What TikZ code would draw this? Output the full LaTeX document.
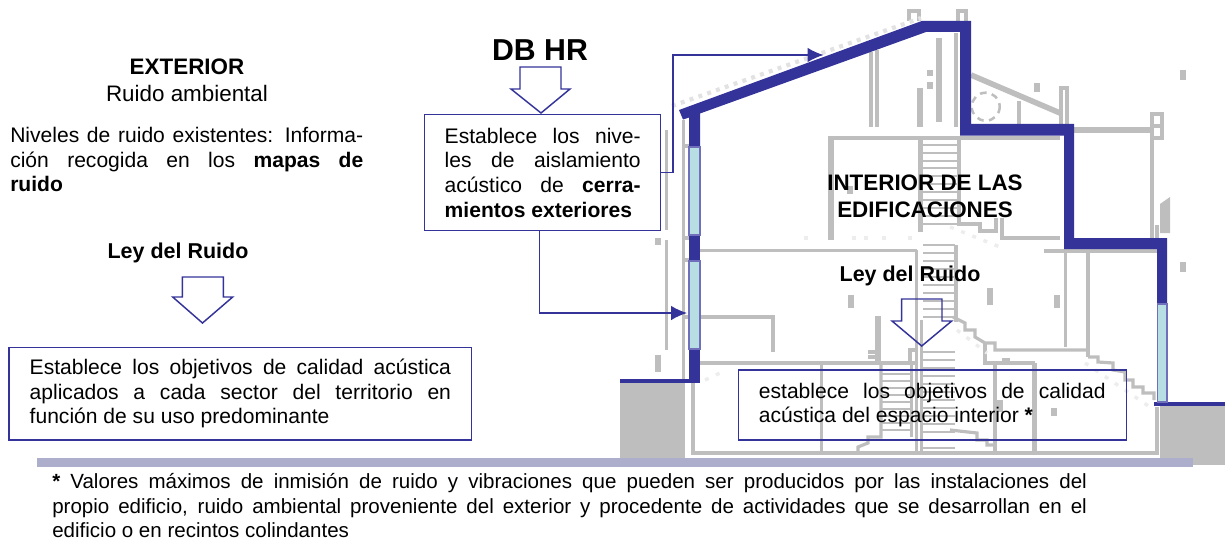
\documentclass[tikz,border=0pt]{standalone}
\usepackage{fontspec}
\setmainfont{Liberation Sans}
\usetikzlibrary{arrows.meta}
\definecolor{wallblue}{HTML}{333399}
\definecolor{planegrey}{HTML}{BEBEBE}
\definecolor{glassblue}{HTML}{B7DFE3}
\definecolor{glassedge}{HTML}{6F6FBB}
\definecolor{bandgrey}{HTML}{ADADCC}
\tikzset{
  plane/.style={draw=planegrey,line width=2.4},
  planefat/.style={draw=planegrey,line width=4.2},
  planethin/.style={draw=planegrey,line width=1.9},
  speck/.style={draw=planegrey,line width=4.5},
  noise/.style={draw=planegrey!45,line width=3.2,dash pattern=on 3pt off 4pt},
  faint/.style={draw=planegrey!28,line width=2.6,dash pattern=on 3pt off 6pt},
  wall/.style={fill=wallblue,draw=none},
  glass/.style={fill=glassblue,draw=glassedge,line width=1},
  txt/.style={font=\fontsize{15.8}{18.4}\selectfont,inner sep=0pt},
  txtbox/.style={txt,draw=wallblue,line width=1.1,align=justify},
  hollow/.style={draw=wallblue,line width=1.1},
  link/.style={draw=wallblue,line width=1.1,-{Latex[length=12pt,width=11pt]}}
}
\begin{document}
\begin{tikzpicture}[x=.75pt,y=-.75pt]
  \useasboundingbox (0,0) rectangle (1225,542);
  % plan
  \fill[planegrey] (620,383) rectangle (685,458);
  \fill[planegrey] (1160,406) rectangle (1225,465);
  \fill[bandgrey] (37,458) rectangle (1192.5,467);
  \draw[plane] (909,21) -- (909,11) -- (919,11) -- (919,21);
  \draw[plane] (958,21) -- (958,11) -- (966,11) -- (966,21);
  \draw[noise] (672,106) -- (921,18);
  \draw[plane] (871,52) -- (871,127) (877,50) -- (877,127);
  \draw[planefat] (920,88) -- (920,127);
  \draw[planefat] (939,38) -- (939,122);
  \draw[plane] (956,33) -- (956,127);
  \draw[speck] (930,70) -- (930,76) (930,82) -- (930,89);
  \draw[planefat] (971,75) -- (1060,113);
  \draw[plane] (1019,101) -- (1019,124);
  \draw[planethin,dash pattern=on 5pt off 4pt] (985.7,106.7) circle (14);
  \draw[plane] (1061,124) -- (1061,88) -- (1067,88) -- (1067,124);
  \draw[speck] (1037,83) -- (1037,92);
  \draw[planefat] (1073,130) -- (1152,130);
  \draw[plane] (1151,126) -- (1162,126) (1152,238) -- (1152,114) -- (1162,114) -- (1162,138) -- (1152,138);
  \fill[planegrey] (1160,204) -- (1170,197) -- (1170,233) -- (1160,233) -- cycle;
  \draw[plane] (1157,225) -- (1157,238);
  \draw[plane] (828,138) -- (1060,138);
  \draw[planefat] (831,138) -- (831,240);
  \draw[planefat] (920.5,138) -- (920.5,232);
  \draw[plane] (959,138) -- (959,224) -- (980,224) -- (980,231) -- (996,231) -- (996,218);
  \draw[plane] (1002,218) -- (1002,238) -- (1060,238);
  \foreach \ytread in {145,153,161,168,176,184,192,200,208,216,224}
    \draw[planethin] (923,\ytread) -- (957,\ytread);
  \foreach \ytread in {245,253,261,269,277,285,293,301,309,317,352,360,368,376,384,392,400,408,416,424,432,440,448}
    \draw[planethin] (923,\ytread) -- (955,\ytread);
  \foreach \ytread in {374,381,388,395,402,409,416,423,430}
    \draw[planethin] (881,\ytread) -- (911,\ytread);
  \draw[plane] (700,250.5) -- (917,250.5) (1044,251) -- (1157,251);
  \draw[plane] (916.5,250) -- (916.5,453) (921.5,320) -- (921.5,453) (956,245) -- (956,322);
  \draw[plane] (1065.5,251) -- (1065.5,347) (1088,251) -- (1088,357);
  \draw[plane] (700,317) -- (773,317) -- (773,352);
  \draw[plane] (700,363) -- (916,363);
  \draw[plane] (821.7,363) -- (821.7,453);
  \draw[planefat] (878,316) -- (878,363);
  \draw[plane] (868,352) -- (878,352) (868,357) -- (878,357);
  \draw[plane] (916,350) -- (910,350) -- (910,363);
  \draw[plane] (881,363) -- (881,437) -- (868,437) -- (868,443) -- (858,447) -- (858,453);
  \draw[plane] (911.5,363) -- (911.5,437);
  \draw[plane] (693,383) -- (693,453) -- (1157,453) -- (1157,407);
  \draw[plane] (953,317) -- (965,323) -- (965,330) -- (975,330) -- (975,337) -- (985,343) -- (995,343) -- (995,350) -- (1088,350);
  \draw[plane] (985,343) -- (985,363) -- (1035,363) (1002,360) -- (1010,360);
  \draw[plane] (995,363) -- (995,453);
  \draw[planefat] (1034.5,363) -- (1034.5,453);
  \draw[plane] (950,430) -- (977,433) -- (977,440) -- (987,440) -- (987,445) -- (995,445);
  \draw[plane] (1088,357) -- (1098,357) -- (1098,362) -- (1113,363) -- (1113,370) -- (1125,372) -- (1125,380) -- (1133,380) -- (1133,387) -- (1143,387) -- (1143,393) -- (1154,393) -- (1154,400);
  \draw[faint] (1085,363) -- (1150,407) (957,330) -- (987,353) (705,380) -- (720,373) (950,227) -- (1000,247);
  \draw[plane] (666.5,130) -- (666.5,230) (666.5,240) -- (666.5,350) (683.5,120) -- (683.5,383);
  \draw[plane] (684,146) -- (689,146) (684,238) -- (689,238) (684,260) -- (689,260) (684,317) -- (689,317);
  \draw[speck] (658,238) -- (658,245) (658,355) -- (658,372) (1183,262) -- (1183,272) (1183,70) -- (1183,80);
  \draw[speck] (851,295) -- (851,308) (990,288) -- (990,305) (1057,295) -- (1057,308) (850,186) -- (850,194);
  \draw[speck] (1000,400) -- (1000,412) (1054,408) -- (1054,416);
  \draw[faint] (804,238) -- (811,238) (852,238) -- (873,238) (882,238) -- (888,238) (908,238) -- (913,238);

  % envelope
  \fill[wall] (679,110) -- (683,119.5) -- (689,117.5) -- (689,147) -- (700,147) -- (700,113.5) -- (926,32) -- (960,32) -- (960,135.5) -- (1064,135.5) -- (1064,249) -- (1157,249) -- (1157,304) -- (1167,304) -- (1167,238) -- (1074,238) -- (1074,124) -- (971,124) -- (971,21) -- (921.7,21) -- cycle;
  \fill[wall] (689,235) rectangle (700,261);
  \fill[wall] (689,349) rectangle (700,383);
  \fill[wall] (620,378.5) rectangle (700,383);
  \fill[wall] (1154,402) rectangle (1225,406);
  \draw[glass] (689,147) rectangle (700,235);
  \draw[glass] (689,261) rectangle (700,349);
  \draw[glass] (1157.5,304) rectangle (1167,402);

  \node[txt,font=\fontsize{16.8}{20}\selectfont\bfseries] (exterior) at (187,67) {EXTERIOR};
  \node[txt,font=\fontsize{16.8}{20}\selectfont] (ambiental) at (187,93) {Ruido ambiental};
  \node[txt,anchor=north west,text width=264.75pt,align=justify] (niveles) at (10,127) {Niveles de ruido existentes: Informa-\linebreak ción recogida en los \textbf{mapas de}\linebreak \textbf{ruido}};
  \node[txt,font=\fontsize{16.1}{20}\selectfont\bfseries] (leyext) at (178,253) {Ley del Ruido};
  \draw[hollow] (182.3,277) -- (223.3,277) -- (223.3,297) -- (232.7,297) -- (202.5,323) -- (172.7,297) -- (182.3,297) -- cycle;
  \node[txtbox,anchor=north west,minimum height=69.5pt,text width=316pt,inner xsep=15.5pt] (objetivos) at (8.3,346.7) {Establece los objetivos de calidad acústica\linebreak aplicados a cada sector del territorio en\linebreak función de su uso predominante};

  \node[font=\fontsize{22.7}{26}\selectfont\bfseries,inner sep=0pt] (dbhr) at (540,50) {DB HR};
  \draw[hollow] (520,67) -- (561,67) -- (561,89) -- (570,89) -- (541,113) -- (511,89) -- (520,89) -- cycle;
  \node[txtbox,anchor=north west,minimum height=87pt,text width=147pt,inner xsep=15pt] (aislamiento) at (424,114) {\rightskip=5.25pt Establece los nive-\linebreak les de aislamiento\linebreak acústico de \textbf{cerra-}\linebreak \textbf{mientos exteriores}};
  \coordinate (cubierta) at (823.5,55);
  \coordinate (ventana) at (687,313);
  \draw[link] (aislamiento.east) -- ++(11.7,0) |- (cubierta);
  \draw[link] ([xshift=-2.6pt]aislamiento.south) |- (ventana);

  \node[font=\fontsize{16.8}{20}\selectfont\bfseries,align=center,inner sep=0pt] (interior) at (925,196) {INTERIOR DE LAS\\EDIFICACIONES};
  \node[txt,font=\fontsize{16.1}{20}\selectfont\bfseries] (leyint) at (910,276) {Ley del Ruido};
  \draw[hollow] (901.7,299) -- (942,299) -- (942,321) -- (951.7,321) -- (921.7,346) -- (892,321) -- (901.7,321) -- cycle;
  \node[txtbox,anchor=north west,minimum height=52.5pt,text width=260pt,inner xsep=15.5pt] (espacio) at (737.5,369.3) {establece los objetivos de calidad\linebreak acústica del espacio interior \textbf{*}};

  \node[txt,font=\fontsize{15.4}{18.2}\selectfont,anchor=north west,text width=776pt,align=justify] (nota) at (52,473.5) {\textbf{*} Valores máximos de inmisión de ruido y vibraciones que pueden ser producidos por las instalaciones del\linebreak propio edificio, ruido ambiental proveniente del exterior y procedente de actividades que se desarrollan en el\linebreak edificio o en recintos colindantes};
\end{tikzpicture}
\end{document}
